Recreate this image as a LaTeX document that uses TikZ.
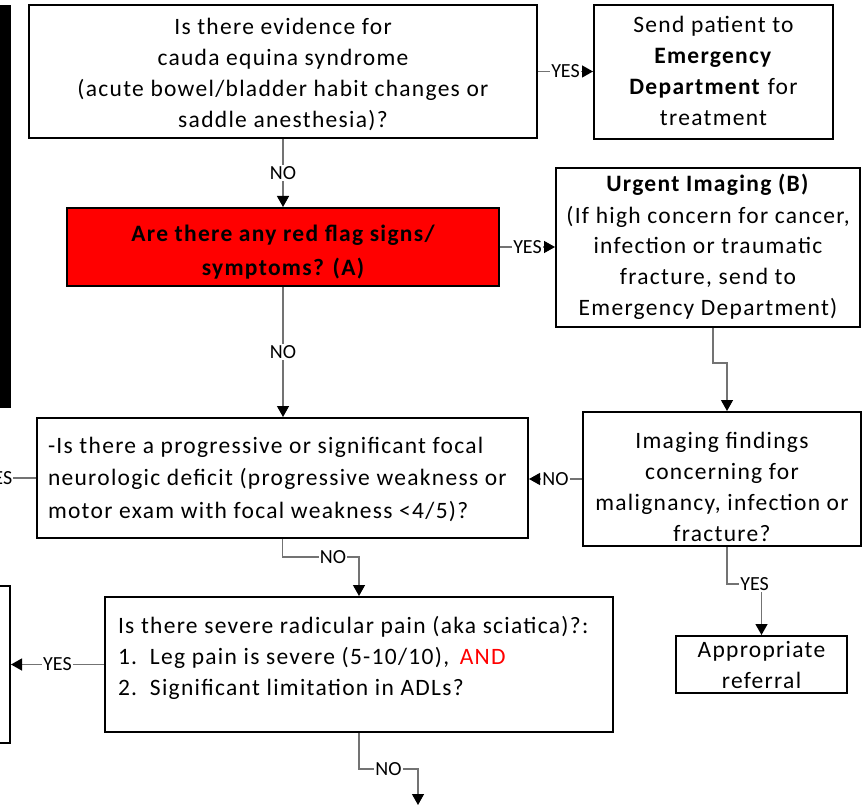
\documentclass[tikz,border=0pt]{standalone}
\usepackage{fontspec}
\setmainfont{Carlito}[LetterSpace=5.5]
\newfontfamily\lblfont{Carlito}
\usetikzlibrary{arrows.meta}
\begin{document}
\begin{tikzpicture}[x=1pt,y=-1pt,
  box/.style={draw=black, line width=2pt, inner sep=0pt, font={\fontsize{23.5}{31}\selectfont}},
  conn/.style={draw=black!55, line width=1.3pt},
  arr/.style={-{Triangle[length=11pt,width=12pt,color=black]}},
  lbl/.style={fill=white, inner sep=1pt, text=black, font={\lblfont\fontsize{20}{20}\selectfont}}]
\useasboundingbox (0,0) rectangle (862,805);

% black bar
\node[fill=black, inner sep=0pt, minimum width=11pt, minimum height=403pt] (bar) at (5.5,206.5) {};

% boxes
\node[box] (cauda) at (283,71.5) {\parbox[c][133pt][t]{508pt}{\centering\vspace*{8.3pt}\strut Is there evidence for\\cauda equina syndrome\\\mbox{(acute bowel/bladder habit changes or}\\saddle anesthesia)?}};

\node[box] (send) at (713.5,72) {\parbox[c][134pt][t]{239pt}{\centering\vspace*{6.3pt}\strut Send patient to\\\textbf{Emergency}\\\textbf{Department} for\\treatment}};

\node[box, fill=red, font={\fontsize{23.5}{34}\selectfont\bfseries}] (red) at (283,247) {\parbox[c][78pt][t]{432pt}{\centering\vspace*{9.3pt}\strut Are there any red flag signs/\\symptoms? (A)}};

\node[box] (urgent) at (708,247.5) {\parbox[c][159pt][t]{304pt}{\centering\vspace*{2.3pt}\strut\textbf{Urgent Imaging (B)}\\\mbox{(If high concern for cancer,}\\infection or traumatic\\fracture, send to\\\mbox{Emergency Department)}}};

\node[box, font={\fontsize{23.5}{32.5}\selectfont}] (prog) at (282.5,478) {\parbox[c][120pt][t]{491pt}{\raggedright\leftskip=11pt\vspace*{12.3pt}\strut\mbox{-Is there a progressive or significant focal}\\\mbox{neurologic deficit (progressive weakness or}\\\mbox{motor exam with focal weakness <4/5)?}}};

\node[box] (imaging) at (722,479) {\parbox[c][134pt][t]{278pt}{\centering\vspace*{14.3pt}\strut Imaging findings\\concerning for\\\mbox{malignancy, infection or}\\fracture?}};

\node[box] (referral) at (761.5,664.5) {\parbox[c][57pt][t]{171pt}{\centering\vspace*{-0.7pt}\strut Appropriate\\referral}};

\node[box] (severe) at (359,664.5) {\parbox[c][135pt][t]{508pt}{\raggedright\leftskip=13pt\vspace*{14.3pt}\strut\mbox{Is there severe radicular pain (aka sciatica)?:}\\\makebox[32pt][l]{1.}Leg pain is severe (5-10/10),\hspace{0.45em}\textcolor{red}{AND}\\\makebox[32pt][l]{2.}Significant limitation in ADLs?}};

\node[draw=black, line width=2pt, inner sep=0pt, minimum width=40pt, minimum height=157pt] (leftbox) at (-10,664.5) {};

% free ends
\coordinate (offl) at (-40,478);
\coordinate (exit) at (418,805);

% connectors
\draw[conn,arr] (cauda.south) -- node[lbl]{NO} (red.north);
\draw[conn,arr] (cauda.east) -- node[lbl]{YES} (cauda.east -| send.west);
\draw[conn,arr] (red.east) -- node[lbl]{YES} (red.east -| urgent.west);
\draw[conn,arr] (red.south) -- node[lbl]{NO} (red.south |- prog.north);
\draw[conn,arr] ([xshift=5pt]urgent.south) -- ++(0,35) -| ([xshift=5pt]imaging.north);
\draw[conn,arr] (imaging.west) -- node[lbl]{NO} (imaging.west -| prog.east);
\draw[conn] (prog.west) -- node[lbl]{YES} (offl);
\draw[conn,arr] ([xshift=5pt]imaging.south) -- ++(0,37) -| node[lbl,pos=0.4]{YES} (referral.north);
\draw[conn,arr] (prog.south) -- ++(0,18) -| node[lbl,pos=0.33]{NO} (severe.north);
\draw[conn,arr] (severe.west) -- node[lbl]{YES} (leftbox.east);
\draw[conn,arr] (severe.south) -- ++(0,36) -| node[lbl,pos=0.25]{NO} (exit);
\end{tikzpicture}
\end{document}
